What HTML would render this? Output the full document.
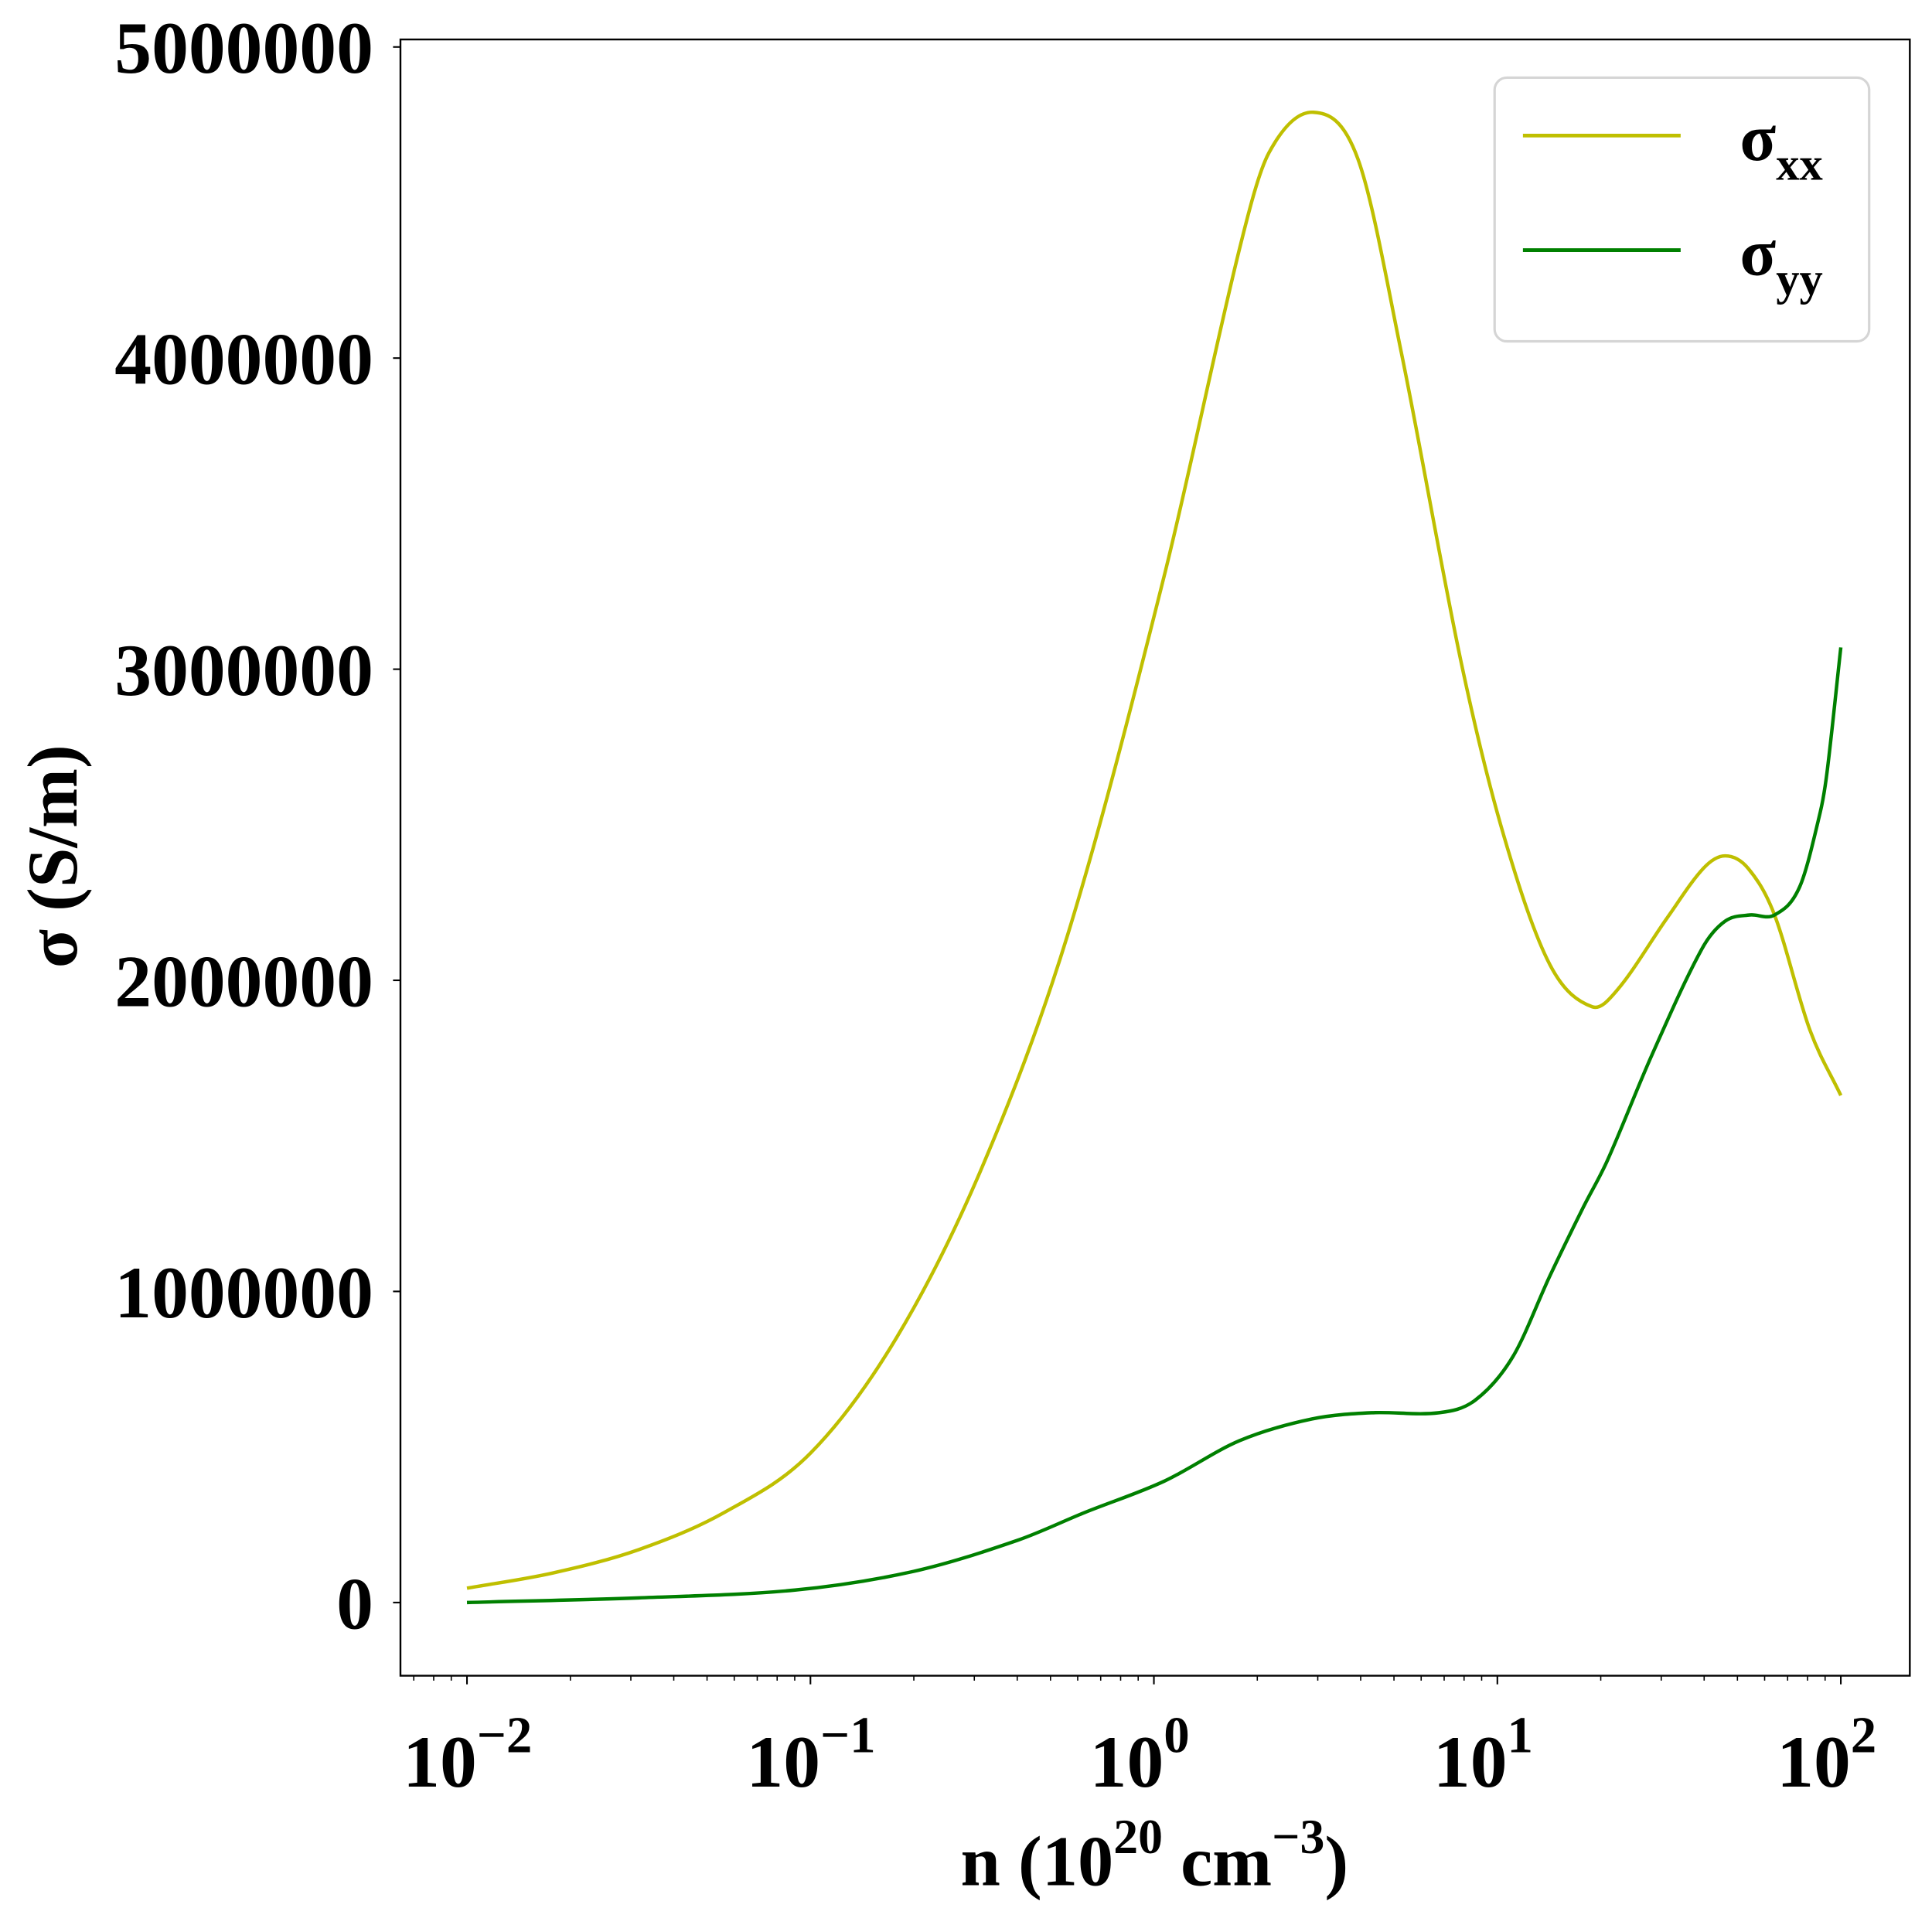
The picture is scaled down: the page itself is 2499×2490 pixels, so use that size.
<!DOCTYPE html>
<html><head><meta charset="utf-8"><style>
html,body{margin:0;padding:0;background:#fff}
svg{display:block}
text{font-family:"Liberation Serif","DejaVu Serif",serif;font-weight:bold;fill:#000}
</style></head><body>
<svg id="chart" width="2499" height="2490" viewBox="0 0 1568 1562.3" xmlns="http://www.w3.org/2000/svg">
<rect x="0" y="0" width="1568" height="1562.3" fill="#fff"/>
<g id="plot"></g>
<rect x="325" y="32" width="1225" height="1328" fill="none" stroke="#000" stroke-width="1.5"/>
<g id="axes"></g>
<text x="937" y="1530" font-size="58" text-anchor="middle">n (10<tspan dy="-26" font-size="40">20</tspan><tspan dy="26"> cm</tspan><tspan dy="-26" font-size="40">−3</tspan><tspan dy="26">)</tspan></text>
<text transform="translate(62,695) rotate(-90)" font-size="58" text-anchor="middle">σ (S/m)</text>
<g>
<rect x="1213" y="63" width="304" height="214" rx="10" fill="#fff" stroke="#d5d5d5" stroke-width="2"/>
<line x1="1236" y1="110" x2="1364" y2="110" stroke="#bfbf00" stroke-width="3"/>
<text x="1412" y="130" font-size="54">σ<tspan dy="16" font-size="38">xx</tspan></text>
<line x1="1236" y1="203" x2="1364" y2="203" stroke="#008000" stroke-width="3"/>
<text x="1412" y="223" font-size="54">σ<tspan dy="16" font-size="38">yy</tspan></text>
</g>
</svg>
<script>
const logN = [-2,-1.75,-1.5,-1.25,-1.0,-0.75,-0.5,-0.25,0.03,0.249,0.335,0.465,0.594,0.72,0.895,1.02,1.153,1.276,1.35,1.494,1.60,1.663,1.73,1.807,1.91,2.0];
const sigmaXX = [0.046,0.095,0.17,0.29,0.48,0.85,1.40,2.15,3.3,4.35,4.66,4.79,4.64,4.02,3.02,2.46,2.05,1.915,1.97,2.2,2.36,2.40,2.36,2.21,1.84,1.63];
const logNyy = [-2,-1.5,-1.045,-0.7,-0.397,-0.2,0.03,0.249,0.46,0.634,0.83,0.935,1.045,1.153,1.25,1.32,1.45,1.595,1.663,1.735,1.807,1.88,1.94,1.96,2.0];
const sigmaYY = [0.0,0.015,0.04,0.10,0.2,0.29,0.39,0.52,0.59,0.61,0.61,0.65,0.79,1.05,1.27,1.42,1.76,2.10,2.19,2.21,2.21,2.30,2.54,2.67,3.07];
const yTicks = [0,1,2,3,4,5];
const yTickLabels = ["0","1000000","2000000","3000000","4000000","5000000"];
const xDecades = [-2,-1,0,1,2];
const xTickSup = ["−2","−1","0","1","2"];

const NS="http://www.w3.org/2000/svg";
function X(l){return 379+(l+2)*278.75;}
function Y(v){return 1300.6-v*252.5;}
function mk(tag,attrs,parent){const e=document.createElementNS(NS,tag);for(const k in attrs)e.setAttribute(k,attrs[k]);parent.appendChild(e);return e;}
function smooth(xs,ys){
  const p=xs.map((x,i)=>[X(x),Y(ys[i])]);
  const n=p.length;
  const m=[];
  for(let i=0;i<n;i++){
    const a=p[Math.max(0,i-1)],b=p[Math.min(n-1,i+1)];
    m.push((b[1]-a[1])/(b[0]-a[0]));
  }
  let d="M"+p[0][0]+","+p[0][1];
  for(let i=0;i<n-1;i++){
    const h=(p[i+1][0]-p[i][0])/3;
    d+=" C"+(p[i][0]+h)+","+(p[i][1]+m[i]*h)+" "+(p[i+1][0]-h)+","+(p[i+1][1]-m[i+1]*h)+" "+p[i+1][0]+","+p[i+1][1];
  }
  return d;
}
const plot=document.getElementById('plot');
const axes=document.getElementById('axes');
const l1=mk('path',{d:smooth(logN,sigmaXX),fill:'none',stroke:'#bfbf00','stroke-width':2.8},plot);


const l2=mk('path',{d:smooth(logNyy,sigmaYY),fill:'none',stroke:'#008000','stroke-width':2.8},plot);



yTicks.forEach((v,i)=>{
  const y=Y(v);
  const t=mk('line',{x1:319,x2:325,y1:y,y2:y,stroke:'#000','stroke-width':1.3},axes);
  
  
  const tx=mk('text',{x:303,y:y+21,'font-size':60,'text-anchor':'end'},axes);
  tx.textContent=yTickLabels[i];
  
  
});
for(let d=-3;d<=2;d++){
  for(let k=2;k<=9;k++){
    const l=d+Math.log10(k);
    const x=X(l);
    if(x<325||x>1550)continue;
    const t=mk('line',{x1:x,x2:x,y1:1360,y2:1364,stroke:'#000','stroke-width':1},axes);
    
    
  }
}
xDecades.forEach((l,i)=>{
  const x=X(l);
  const t=mk('line',{x1:x,x2:x,y1:1360,y2:1367,stroke:'#000','stroke-width':1.3},axes);
  
  
  const tx=mk('text',{x:x-52,y:1450,'font-size':60},axes);
  
  
  tx.appendChild(document.createTextNode('10'));
  const s=document.createElementNS(NS,'tspan');
  s.setAttribute('dy','-28');s.setAttribute('font-size','42');
  s.textContent=xTickSup[i];tx.appendChild(s);
});
</script>
</body></html>
